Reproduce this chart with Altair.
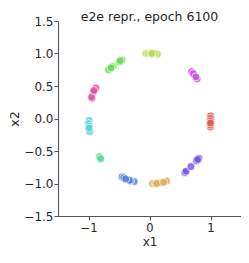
import altair as alt
import pandas as pd

# cluster index for every point (10 classes, seaborn "hls" palette)
cls = [2, 2, 2, 2, 2, 2,
       3, 3, 3, 3, 3, 3,
       9, 9, 9, 9, 9,
       5, 5, 5, 5, 5,
       4, 4,
       6, 6, 6, 6, 6, 6,
       1, 1, 1, 1, 1, 1,
       7, 7, 7, 7, 7, 7,
       8, 8, 8, 8,
       0, 0, 0, 0, 0, 0]
x1 = [-0.06, 0.13, 0.08, -0.02, 0.02, 0.04,
      -0.67, -0.45, -0.60, -0.50, -0.63, -0.48,
      -0.88, -0.94, -0.92, -0.95, -0.91,
      -0.99, -0.98, -1.00, -0.99, -0.99,
      -0.82, -0.80,
      -0.45, -0.25, -0.42, -0.31, -0.33, -0.39,
      0.05, 0.28, 0.10, 0.18, 0.12, 0.23,
      0.81, 0.58, 0.60, 0.68, 0.77, 0.79,
      0.69, 0.78, 0.72, 0.76,
      1.00, 1.00, 1.00, 1.00, 1.00, 1.00]
x2 = [1.00, 0.99, 1.00, 1.00, 1.00, 1.00,
      0.75, 0.90, 0.80, 0.87, 0.78, 0.89,
      0.47, 0.31, 0.41, 0.33, 0.43,
      -0.03, -0.20, -0.08, -0.12, -0.15,
      -0.59, -0.62,
      -0.90, -0.97, -0.91, -0.96, -0.95, -0.93,
      -1.00, -0.96, -1.00, -0.99, -1.00, -0.98,
      -0.61, -0.83, -0.81, -0.74, -0.65, -0.63,
      0.72, 0.61, 0.69, 0.64,
      0.04, -0.13, 0.00, -0.10, -0.04, -0.07]

palette = ["#db5f57", "#dbae57", "#b9db57", "#69db57", "#57db94",
           "#57d3db", "#5784db", "#7957db", "#c957db", "#db579e"]

df = pd.DataFrame({"x1": x1, "x2": x2, "cls": cls})

FONT = "DejaVu Sans"

chart = alt.Chart(df).mark_circle(
    size=64, opacity=0.82, stroke="white", strokeWidth=0.8
).encode(
    x=alt.X("x1:Q", scale=alt.Scale(domain=[-1.5, 1.5], nice=False, zero=False),
            axis=alt.Axis(values=[-1, 0, 1], title="x1", format="d",
                          labelPadding=2, titlePadding=2.5, labelFontSize=11.5,
                          titleFontSize=12)),
    y=alt.Y("x2:Q", scale=alt.Scale(domain=[-1.5, 1.5], nice=False, zero=False),
            axis=alt.Axis(values=[-1.5, -1.0, -0.5, 0.0, 0.5, 1.0, 1.5], title="x2",
                          format=".1f", labelPadding=1, titlePadding=2)),
    color=alt.Color("cls:N", scale=alt.Scale(domain=list(range(10)), range=palette), legend=None),
).properties(
    width=183, height=195,
    title=alt.TitleParams("e2e repr., epoch 6100", font=FONT, fontSize=12.5,
                          fontWeight="normal", color="#262626", offset=-8),
    autosize=alt.AutoSizeParams(type="none"),
    padding={"left": 50, "top": 13, "right": 0, "bottom": 33},
).configure_view(
    stroke=None
).configure_axis(
    grid=False, domainColor="#555555", tickColor="#555555", domainWidth=1.1, tickWidth=1.1,
    tickSize=4, labelFont=FONT, labelFontSize=12, labelColor="#262626",
    titleFont=FONT, titleFontSize=12.5, titleFontWeight="normal", titleColor="#262626",
)

chart.save("out.html", embed_options={"renderer": "svg", "actions": False})
